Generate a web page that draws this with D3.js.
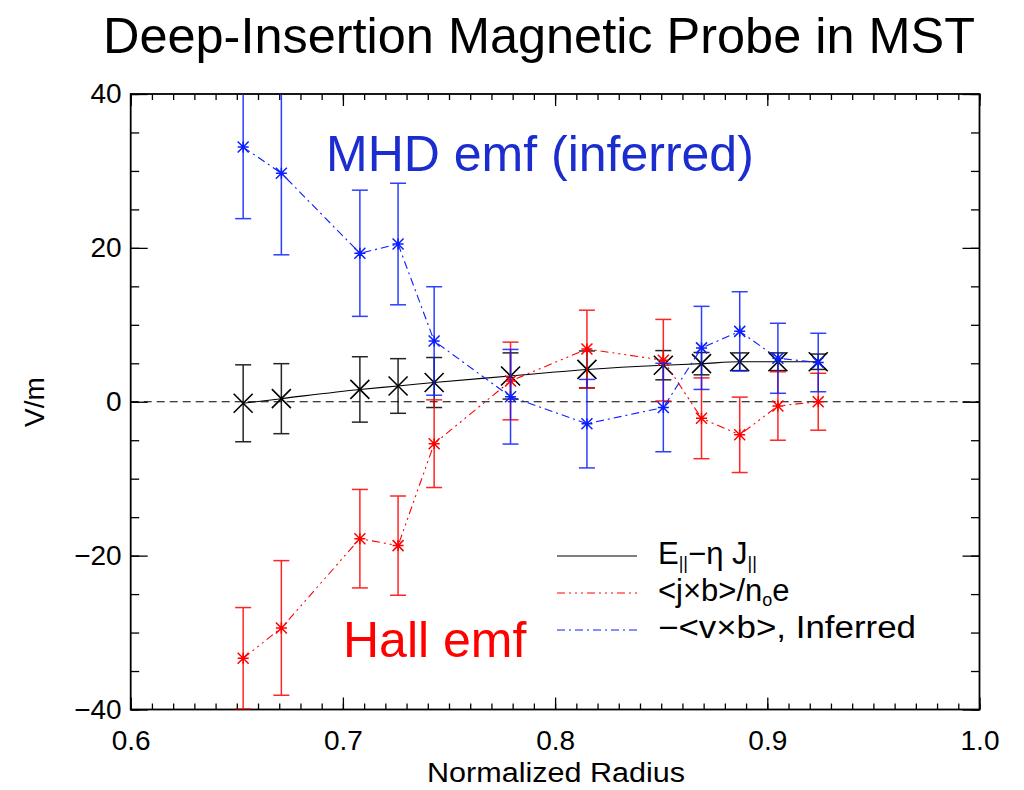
<!DOCTYPE html>
<html>
<head>
<meta charset="utf-8">
<script src="https://cdn.jsdelivr.net/npm/d3@7"></script>
<style>
  body { margin: 0; background: #fff; }
  text { font-family: "Liberation Sans", Arial, Helvetica, sans-serif; }
</style>
</head>
<body>
<div id="chart"></div>
<script>
// normalized radius of each probe position
var radius = [0.653, 0.671, 0.708, 0.726, 0.743, 0.779, 0.815, 0.851, 0.869, 0.887, 0.905, 0.924];

// E_par - eta J_par (black)
var ohm    = [-0.2, 0.4, 1.6, 2.05, 2.5, 3.35, 4.2, 4.75, 4.95, 5.2, 5.2, 5.2];
var ohmErr = [5.0, 4.55, 4.25, 3.55, 3.25, 3.0, 2.4, 1.9, 1.45, 1.15, 1.15, 1.0];

// <j x b>/n e  (red, Hall)
var hall    = [-33.35, -29.4, -17.8, -18.7, -5.45, 2.7, 6.85, 5.4, -2.15, -4.3, -0.55, 0.0];
var hallErr = [6.6, 8.75, 6.4, 6.45, 5.7, 5.05, 5.05, 5.3, 5.25, 4.9, 4.45, 3.7];

// -<v x b>, inferred (blue, MHD)
var mhd    = [33.1, 29.7, 19.3, 20.5, 7.9, 0.65, -2.85, -0.75, 7.0, 9.15, 5.65, 5.1];
var mhdErr = [9.3, 10.6, 8.2, 7.9, 7.05, 6.15, 5.75, 5.75, 5.4, 5.15, 4.55, 3.8];

var xTicks = [0.6, 0.7, 0.8, 0.9, 1.0];
var yTicks = [-40, -20, 0, 20, 40];

var W = 1024, H = 790;
var L = 130.7, R = 979.5, T = 94, B = 709.5;

var svg = d3.select("#chart").append("svg").attr("width", W).attr("height", H);
svg.append("rect").attr("width", W).attr("height", H).attr("fill", "#fff");

var x = d3.scaleLinear().domain([0.6, 1.0]).range([L, R]);
var y = d3.scaleLinear().domain([-40, 40]).range([B, T]);

svg.append("defs").append("clipPath").attr("id", "plot")
  .append("rect").attr("x", L).attr("y", T).attr("width", R - L).attr("height", B - T);

// title
svg.append("text").attr("x", 539).attr("y", 53).attr("text-anchor", "middle")
  .attr("font-size", 50).attr("textLength", 872).attr("lengthAdjust", "spacingAndGlyphs")
  .text("Deep-Insertion Magnetic Probe in MST");

// axes (ticks inside on all four sides)
var xMinor = d3.range(60, 101).map(function (d) { return d / 100; });
var yMinor = d3.range(-40, 41, 5);
var fmtY = function (d) { return d < 0 ? "\u2212" + Math.abs(d) : d; };

function axis(g, a) {
  g.call(a);
  g.select(".domain").remove();
  g.selectAll("line").attr("stroke", "#000").attr("stroke-width", 1.3);
  g.selectAll("text").attr("font-size", 28).attr("fill", "#000");
}

svg.append("g").attr("transform", "translate(0," + B + ")")
  .call(axis, d3.axisBottom(x).tickValues(xMinor).tickSize(-6).tickFormat(""));
svg.append("g").attr("transform", "translate(0," + B + ")")
  .call(axis, d3.axisBottom(x).tickValues(xTicks).tickSizeInner(-12).tickSizeOuter(0)
    .tickPadding(21).tickFormat(d3.format(".1f")));
svg.append("g").attr("transform", "translate(0," + T + ")")
  .call(axis, d3.axisTop(x).tickValues(xMinor).tickSize(-6).tickFormat(""));
svg.append("g").attr("transform", "translate(0," + T + ")")
  .call(axis, d3.axisTop(x).tickValues(xTicks).tickSize(-12).tickFormat(""));

svg.append("g").attr("transform", "translate(" + L + ",0)")
  .call(axis, d3.axisLeft(y).tickValues(yMinor).tickSize(-8.5).tickFormat(""));
svg.append("g").attr("transform", "translate(" + L + ",0)")
  .call(axis, d3.axisLeft(y).tickValues(yTicks).tickSizeInner(-17).tickSizeOuter(0)
    .tickPadding(9).tickFormat(fmtY));
svg.append("g").attr("transform", "translate(" + R + ",0)")
  .call(axis, d3.axisRight(y).tickValues(yMinor).tickSize(-8.5).tickFormat(""));
svg.append("g").attr("transform", "translate(" + R + ",0)")
  .call(axis, d3.axisRight(y).tickValues(yTicks).tickSize(-17).tickFormat(""));

svg.append("rect").attr("x", L).attr("y", T).attr("width", R - L).attr("height", B - T)
  .attr("fill", "none").attr("stroke", "#000").attr("stroke-width", 1.8);

// axis titles
svg.append("text").attr("x", 556).attr("y", 782).attr("text-anchor", "middle")
  .attr("font-size", 27).attr("textLength", 258).attr("lengthAdjust", "spacingAndGlyphs")
  .text("Normalized Radius");
svg.append("text").attr("transform", "translate(44,402) rotate(-90)")
  .attr("text-anchor", "middle").attr("font-size", 28).text("V/m");

var plot = svg.append("g").attr("clip-path", "url(#plot)");

// zero line
plot.append("line").attr("x1", L).attr("x2", R).attr("y1", y(0)).attr("y2", y(0))
  .attr("stroke", "#000").attr("stroke-width", 1.2).attr("stroke-dasharray", "8,5");

var series = [
  { vals: ohm,  err: ohmErr,  color: "#000",    dash: null,              curve: d3.curveMonotoneX, mark: "x" },
  { vals: hall, err: hallErr, color: "#ff0000", dash: "8,4,2,4,2,4,2,4", curve: d3.curveLinear,    mark: "*" },
  { vals: mhd,  err: mhdErr,  color: "#0a1eff", dash: "8,4,2,4",         curve: d3.curveLinear,    mark: "*" }
];

series.forEach(function (s) {
  var pts = radius.map(function (r, i) { return { r: r, v: s.vals[i], e: s.err[i] }; });
  var line = d3.line().x(function (d) { return x(d.r); }).y(function (d) { return y(d.v); }).curve(s.curve);
  plot.append("path").datum(pts).attr("d", line).attr("fill", "none")
    .attr("stroke", s.color).attr("stroke-width", 1.1)
    .attr("stroke-dasharray", s.dash);

  var eb = plot.append("g").attr("stroke", s.color).attr("stroke-width", 1.5).attr("opacity", 0.85);
  pts.forEach(function (d) {
    var cx = x(d.r), y1 = y(d.v - d.e), y2 = y(d.v + d.e);
    eb.append("line").attr("x1", cx).attr("x2", cx).attr("y1", y1).attr("y2", y2);
    eb.append("line").attr("x1", cx - 8).attr("x2", cx + 8).attr("y1", y1).attr("y2", y1);
    eb.append("line").attr("x1", cx - 8).attr("x2", cx + 8).attr("y1", y2).attr("y2", y2);
  });

  var mk = plot.append("g").attr("stroke", s.color);
  pts.forEach(function (d) {
    var cx = x(d.r), cy = y(d.v);
    if (s.mark === "x") {
      var a = 9.5;
      mk.append("path").attr("stroke-width", 1.6)
        .attr("d", "M" + (cx - a) + "," + (cy - a) + "L" + (cx + a) + "," + (cy + a) +
                   "M" + (cx - a) + "," + (cy + a) + "L" + (cx + a) + "," + (cy - a));
    } else {
      var b = 5.5;
      mk.append("path").attr("stroke-width", 1.5)
        .attr("d", "M" + (cx - b) + "," + (cy - b) + "L" + (cx + b) + "," + (cy + b) +
                   "M" + (cx - b) + "," + (cy + b) + "L" + (cx + b) + "," + (cy - b) +
                   "M" + (cx - b) + "," + cy + "L" + (cx + b) + "," + cy +
                   "M" + cx + "," + (cy - b) + "L" + cx + "," + (cy + b));
    }
  });
});

// annotations
svg.append("text").attr("x", 326).attr("y", 171).attr("font-size", 50)
  .attr("fill", "#1c2dd0").text("MHD emf (inferred)");
svg.append("text").attr("x", 343).attr("y", 657).attr("font-size", 50)
  .attr("fill", "#ff0000").text("Hall emf");

// legend
var legY = [556, 593, 630];
var leg = svg.append("g");
series.forEach(function (s, i) {
  leg.append("line").attr("x1", 557).attr("x2", 637).attr("y1", legY[i]).attr("y2", legY[i])
    .attr("stroke", s.color).attr("stroke-width", 1.1).attr("stroke-dasharray", s.dash);
});
var t0 = leg.append("text").attr("x", 658).attr("y", legY[0] + 7.5).attr("font-size", 31);
t0.append("tspan").text("E");
t0.append("tspan").attr("font-size", 18).attr("dy", 5).text("||");
t0.append("tspan").attr("dy", -5).text("\u2212\u03b7 J");
t0.append("tspan").attr("font-size", 18).attr("dy", 5).text("||");

var t1 = leg.append("text").attr("x", 658).attr("y", legY[1] + 8).attr("font-size", 31);
t1.append("tspan").text("<j\u00d7b>/n");
t1.append("tspan").attr("font-size", 18).attr("dy", 5).text("o");
t1.append("tspan").attr("dy", -5).text("e");

leg.append("text").attr("x", 658).attr("y", legY[2] + 8).attr("font-size", 31)
  .attr("textLength", 258).attr("lengthAdjust", "spacingAndGlyphs")
  .text("\u2212<v\u00d7b>, Inferred");
</script>
</body>
</html>
